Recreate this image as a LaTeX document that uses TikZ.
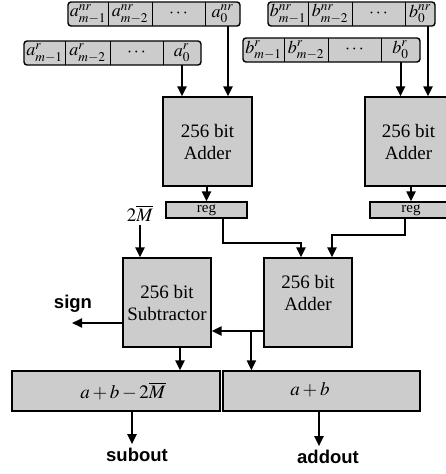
\documentclass[tikz,border=0pt]{standalone}
\usepackage{mathptmx}
\usepackage{fontspec}
\setmainfont{Liberation Serif}
\setsansfont{Liberation Sans}
\usetikzlibrary{arrows.meta,positioning,calc}

\begin{document}
\begin{tikzpicture}[
    x=1pt, y=-1pt,
    font=\fontsize{19}{22}\selectfont,
    >={Triangle[length=10pt,width=9pt]},
    blk/.style={draw, line width=1.2pt, fill=gray!40, inner sep=0pt, align=center},
    regrow/.style={blk, rounded corners=3pt, line width=1.4pt, minimum height=24},
    cell/.style={inner sep=0pt, minimum height=24, font=\fontsize{18}{20}\selectfont},
    sep/.style={line width=1.4pt},
    wire/.style={->, line width=2pt},
    lbl/.style={font=\sffamily\bfseries\fontsize{18.5}{20}\selectfont},
    ]
\clip (0,0) rectangle (446,474);

% operand registers
\node[regrow, minimum width=172] (anr) at (154,14) {};
\foreach \c/\w/\t [count=\i] in {88/40/{a^{nr}_{m-1}}, 130/44/{a^{nr}_{m-2}}, 178.5/53/{\cdots}, 222.5/35/{a^{nr}_{0}}}
    \node[cell, minimum width=\w] (anr-\i) at (\c,14) {\makebox[0pt]{$\t$}};
\node[regrow, minimum width=177] (ar) at (112.5,53) {};
\foreach \c/\w/\t [count=\i] in {44.5/41/{a^{r}_{m-1}}, 87.5/45/{a^{r}_{m-2}}, 136.5/53/{\cdots}, 182/38/{a^{r}_{0}}}
    \node[cell, minimum width=\w] (ar-\i) at (\c,53) {\makebox[0pt]{$\t$}};
\node[regrow, minimum width=167] (bnr) at (351.5,14) {};
\foreach \c/\w/\t [count=\i] in {288/40/{b^{nr}_{m-1}}, 330/44/{b^{nr}_{m-2}}, 378.5/53/{\cdots}, 420/30/{b^{nr}_{0}}}
    \node[cell, minimum width=\w] (bnr-\i) at (\c,14) {\makebox[0pt]{$\t$}};
\node[regrow, minimum width=177] (br) at (331.5,50) {};
\foreach \c/\w/\t [count=\i] in {263.5/41/{b^{r}_{m-1}}, 306/44/{b^{r}_{m-2}}, 354.5/53/{\cdots}, 400.5/39/{b^{r}_{0}}}
    \node[cell, minimum width=\w] (br-\i) at (\c,50) {\makebox[0pt]{$\t$}};
\foreach \r in {anr,ar,bnr,br}
    \foreach \i in {1,2,3}
        \draw[sep] (\r-\i.north east) -- (\r-\i.south east);

% first stage adders
\node[blk, minimum width=89, minimum height=89] (adl) at (207.5,141.5) {256 bit\\Adder};
\node[blk, minimum width=87, minimum height=89] (adr) at (408.5,141.5) {256 bit\\Adder};
\node[blk, minimum width=81, minimum height=16, font=\fontsize{15}{16}\selectfont] (regl) at (206.5,210) {reg};
\node[blk, minimum width=82, minimum height=16, font=\fontsize{15}{16}\selectfont] (regr) at (411,210) {reg};

\draw[wire] (ar-4.south) -- (ar-4.south |- adl.north);
\draw[wire] ([xshift=5.5pt]anr-4.south) -- ([xshift=5.5pt]anr-4.south |- adl.north);
\draw[wire] (br-4.south) -- (br-4.south |- adr.north);
\draw[wire] ([xshift=8pt]bnr-4.south) -- ([xshift=8pt]bnr-4.south |- adr.north);
\draw[wire] (regl.north |- adl.south) -- (regl.north);
\draw[wire] (regr.north |- adr.south) -- (regr.north);

% second stage
\node[blk, minimum width=88, minimum height=89] (sub) at (167,302.5) {256 bit\\Subtractor};
\node[blk, minimum width=88, minimum height=89] (adb) at (308,302.5) {};
\node[align=center] (adbtxt) at ([yshift=10pt]adb.center) {256 bit\\Adder};
\node (mbar) at (140,213) {$2\overline{M}$};
\node[lbl] (sign) at (73,304) {sign};
\coordinate (signend) at (72,323);

\draw[wire] ([xshift=16.5pt]regl.south) -- ++(0,24) -| ([xshift=-7pt]adb.north);
\draw[wire] ([xshift=-6pt]regr.south) -- ++(0,16) -| ([xshift=24pt]adb.north);
\draw[wire] (mbar.south) -- (mbar.south |- sub.north);
\draw[wire] ([yshift=-20.5pt]sub.west) -- (signend);
\draw[wire] ([yshift=-28.5pt]adb.west) -- ([yshift=-28.5pt]adb.west -| sub.east);

% result registers
\node[blk, minimum width=208, minimum height=40] (outl) at (116,391) {};
\node (outltxt) at (123,391) {$a+b-2\overline{M}$};
\node[blk, minimum width=197, minimum height=40] (outr) at (321.5,391) {};
\node (outrtxt) at (310,390) {$a+b$};

\draw[wire] ([xshift=-12pt,yshift=-28.5pt]adb.west) -- ([xshift=-12pt]adb.west |- outr.north);
\draw[wire] ([xshift=13pt]sub.south) -- ([xshift=13pt]sub.south |- outl.north);

\node[lbl] (subout) at (137,454.5) {subout};
\node[lbl] (addout) at (328,456.5) {addout};
\draw[wire] ([xshift=-5pt]subout.north |- outl.south) -- ([xshift=-5pt]subout.north);
\draw[wire] ([xshift=-9pt]addout.north |- outr.south) -- ([xshift=-9pt]addout.north);
\end{tikzpicture}
\end{document}
